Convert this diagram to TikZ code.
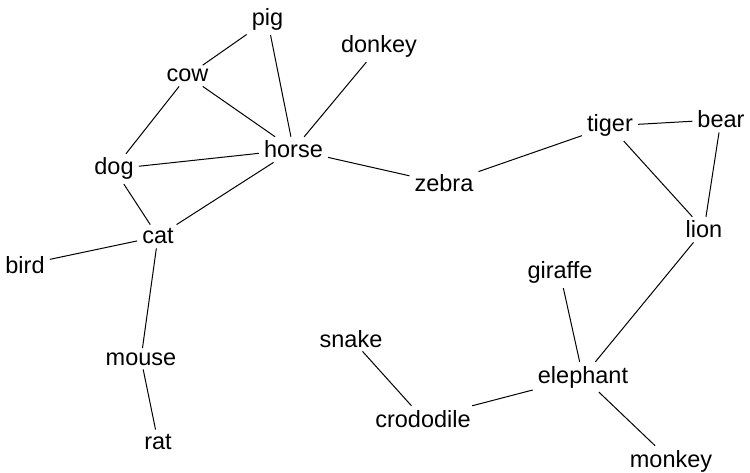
\documentclass[tikz,border=0pt]{standalone}
\usepackage{fontspec}
\setmainfont{Liberation Sans}
\begin{document}
\begin{tikzpicture}[x=1pt,y=-1pt,
  animal/.style={font=\fontsize{23.5}{28}\selectfont, inner xsep=5pt, inner ysep=4pt, anchor=base},
  link/.style={line width=1pt, black}]
\useasboundingbox (0,0) rectangle (750,473);
\node[animal] (pig) at (267.5,26) {pig};
\node[animal] (donkey) at (379,53) {donkey};
\node[animal] (cow) at (187.5,82) {cow};
\node[animal] (horse) at (293.5,158) {horse};
\node[animal] (dog) at (114,175) {dog};
\node[animal] (zebra) at (444,192) {zebra};
\node[animal] (tiger) at (610,132) {tiger};
\node[animal] (bear) at (721,128) {bear};
\node[animal] (lion) at (704,238) {lion};
\node[animal] (cat) at (158,244) {cat};
\node[animal] (bird) at (25,273) {bird};
\node[animal] (giraffe) at (560,279) {giraffe};
\node[animal] (snake) at (351,347) {snake};
\node[animal] (mouse) at (141,365) {mouse};
\node[animal] (elephant) at (583,383) {elephant};
\node[animal] (crododile) at (423,427) {crododile};
\node[animal] (rat) at (158,449) {rat};
\node[animal] (monkey) at (671,467) {monkey};
\draw[link] (pig) -- (cow);
\draw[link] (pig) -- (horse);
\draw[link] (cow) -- (horse);
\draw[link] (cow) -- (dog);
\draw[link] (donkey) -- (horse);
\draw[link] (dog) -- (horse);
\draw[link] (dog) -- (cat);
\draw[link] (horse) -- (cat);
\draw[link] (horse) -- (zebra);
\draw[link] (zebra) -- (tiger);
\draw[link] (tiger) -- (bear);
\draw[link] (tiger) -- (lion);
\draw[link] (bear) -- (lion);
\draw[link] (lion) -- (elephant);
\draw[link] (cat) -- (bird);
\draw[link] (cat) -- (mouse);
\draw[link] (mouse) -- (rat);
\draw[link] (giraffe) -- (elephant);
\draw[link] (snake) -- (crododile);
\draw[link] (crododile) -- (elephant);
\draw[link] (elephant) -- (monkey);
\end{tikzpicture}
\end{document}
